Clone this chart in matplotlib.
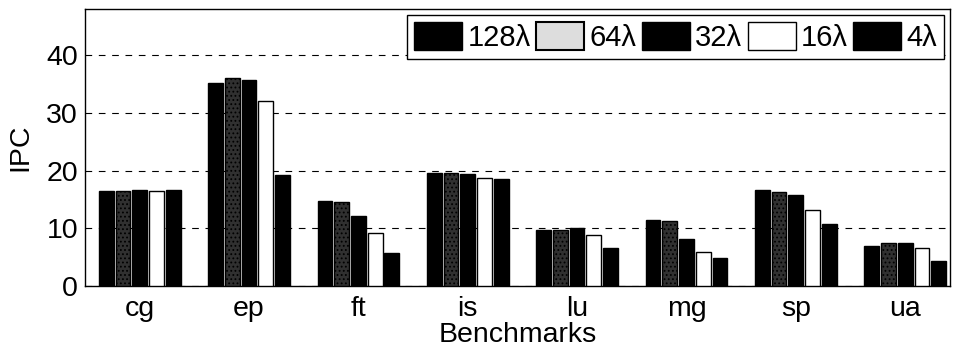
import matplotlib
matplotlib.use("Agg")
import matplotlib.pyplot as plt
from matplotlib.patches import Patch
import numpy as np

benchmarks = ["cg", "ep", "ft", "is", "lu", "mg", "sp", "ua"]
series_names = ["128λ", "64λ", "32λ", "16λ", "4λ"]
ipc_128 = [16.5, 35.2, 14.7, 19.6, 9.7, 11.4, 16.6, 7.0]
ipc_64 = [16.5, 36.0, 14.6, 19.6, 9.75, 11.3, 16.3, 7.4]
ipc_32 = [16.6, 35.7, 12.2, 19.4, 10.1, 8.1, 15.8, 7.5]
ipc_16 = [16.5, 32.1, 9.2, 18.8, 8.8, 5.9, 13.2, 6.6]
ipc_4 = [16.6, 19.2, 5.7, 18.5, 6.6, 4.9, 10.8, 4.4]
series_values = [ipc_128, ipc_64, ipc_32, ipc_16, ipc_4]
y_ticks = [0, 10, 20, 30, 40]

plt.rcParams['font.family'] = ['Liberation Sans', 'DejaVu Sans']
plt.rcParams['hatch.color'] = 'white'
plt.rcParams['hatch.linewidth'] = 0.8

FS = 20.5
fig = plt.figure(figsize=(9.55, 3.48), dpi=100)
L, R, T, B = 85, 950, 9, 286
ax = fig.add_axes([L/955, 1 - B/348, (R-L)/955, (B-T)/348])

x = np.arange(1, len(benchmarks) + 1)
pitch = 0.153
width = 0.135
styles = [
    dict(facecolor='black', edgecolor='black'),
    dict(facecolor='#303030', edgecolor='black', hatch='....'),
    dict(facecolor='black', edgecolor='black'),
    dict(facecolor='white', edgecolor='black'),
    dict(facecolor='black', edgecolor='black'),
]
for i, (name, vals) in enumerate(zip(series_names, series_values)):
    offs = (i - 2) * pitch
    ax.bar(x + offs, vals, width=width, linewidth=1.0, label=name, zorder=3, **styles[i])

ax.set_xlim(0.5, 8.41)
ax.set_ylim(0, 48)
ax.set_yticks(y_ticks)
ax.set_xticks(x)
ax.set_xticklabels(benchmarks)
ax.tick_params(axis='both', labelsize=FS, length=0)
ax.tick_params(axis='x', pad=7)
ax.tick_params(axis='y', pad=5)
ax.yaxis.grid(True, linestyle=(0, (6, 6)), color='black', linewidth=0.8, zorder=0)
for s in ax.spines.values():
    s.set_linewidth(1.0)
ax.set_ylabel("IPC", fontsize=FS)
ax.yaxis.set_label_coords(-(L - 33) / (R - L), 0.5)
ax.set_xlabel("Benchmarks", fontsize=FS, va='baseline')
ax.xaxis.set_label_coords(0.5, -(342 - B) / (B - T))

leg_handles = [
    Patch(facecolor='black', edgecolor='black'),
    Patch(facecolor='#dddddd', edgecolor='black', linewidth=1.5),
    Patch(facecolor='black', edgecolor='black'),
    Patch(facecolor='white', edgecolor='black'),
    Patch(facecolor='black', edgecolor='black'),
]
leg = ax.legend(leg_handles, series_names, ncol=5, loc='upper right', fontsize=21,
                frameon=True, fancybox=False, edgecolor='black', framealpha=1,
                handlelength=1.64, handleheight=1.1, handletextpad=0.17, columnspacing=0.2,
                borderpad=0.25, borderaxespad=0.2)
leg.get_frame().set_linewidth(1.0)

fig.savefig("out.png", dpi=100)
